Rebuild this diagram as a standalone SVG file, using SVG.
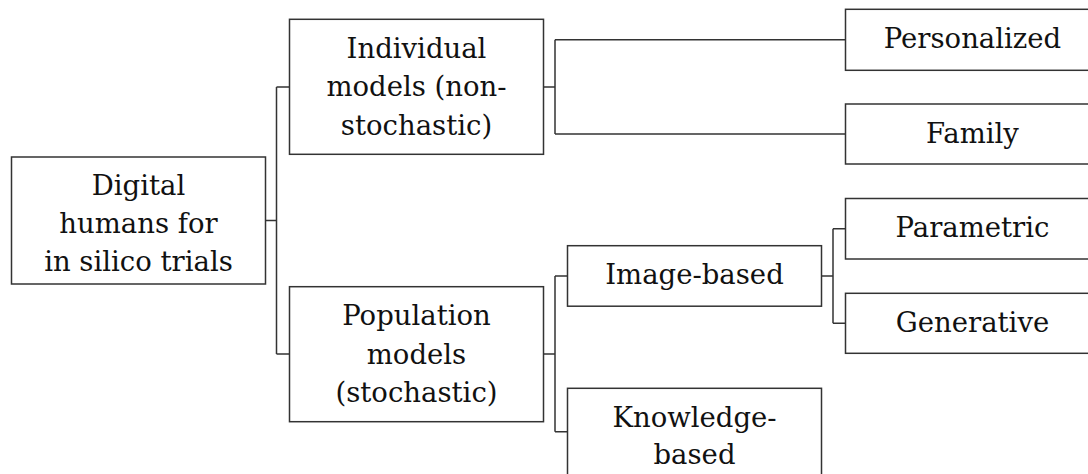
<svg xmlns="http://www.w3.org/2000/svg" width="1088" height="474" viewBox="0 0 1088 474">
<style>
rect.box{fill:#fff;stroke:#333;stroke-width:1.5}
.edge{fill:none;stroke:#333;stroke-width:1.5}
.t{font-family:'DejaVu Serif',serif;font-size:27.5px;fill:#111;text-anchor:middle}
</style>
<rect width="1088" height="474" fill="#fff"/>
<g id="connectors">
<path class="edge" d="M265.5,220.5 H276.5 M276.5,87 V354 M276.5,87 H289.5 M276.5,354 H289.5"/>
<path class="edge" d="M543.5,87 H555 M555,39.7 V134 M555,39.7 H845.5 M555,134 H845.5"/>
<path class="edge" d="M543.5,354 H555 M555,276 V431.7 M555,276 H567.5 M555,431.7 H567.5"/>
<path class="edge" d="M821.5,276 H833 M833,228.7 V323.3 M833,228.7 H845.5 M833,323.3 H845.5"/>
</g>
<g id="root">
<rect class="box" x="11.5" y="157" width="254" height="127"/>
<text class="t" x="138.5" y="195">Digital</text>
<text class="t" x="138.5" y="233">humans for</text>
<text class="t" x="138.5" y="271">in silico trials</text>
</g>
<g id="individual">
<rect class="box" x="289.5" y="19.3" width="254" height="135"/>
<text class="t" x="416.5" y="57.5">Individual</text>
<text class="t" x="416.5" y="96">models (non-</text>
<text class="t" x="416.5" y="134.5">stochastic)</text>
</g>
<g id="population">
<rect class="box" x="289.5" y="286.7" width="254" height="135"/>
<text class="t" x="416.5" y="325">Population</text>
<text class="t" x="416.5" y="363.5">models</text>
<text class="t" x="416.5" y="402">(stochastic)</text>
</g>
<g id="personalized">
<rect class="box" x="845.5" y="9.3" width="254" height="61"/>
<text class="t" x="972.5" y="48.3">Personalized</text>
</g>
<g id="family">
<rect class="box" x="845.5" y="104" width="254" height="60"/>
<text class="t" x="972.5" y="142.5">Family</text>
</g>
<g id="image-based">
<rect class="box" x="567.5" y="245.7" width="254" height="60.5"/>
<text class="t" x="694.5" y="284.3">Image-based</text>
</g>
<g id="knowledge-based">
<rect class="box" x="567.5" y="388.3" width="254" height="88"/>
<text class="t" x="694.5" y="426.5">Knowledge-</text>
<text class="t" x="694.5" y="464">based</text>
</g>
<g id="parametric">
<rect class="box" x="845.5" y="198.5" width="254" height="60.5"/>
<text class="t" x="972.5" y="237">Parametric</text>
</g>
<g id="generative">
<rect class="box" x="845.5" y="293.3" width="254" height="60"/>
<text class="t" x="972.5" y="331.7">Generative</text>
</g>
</svg>
